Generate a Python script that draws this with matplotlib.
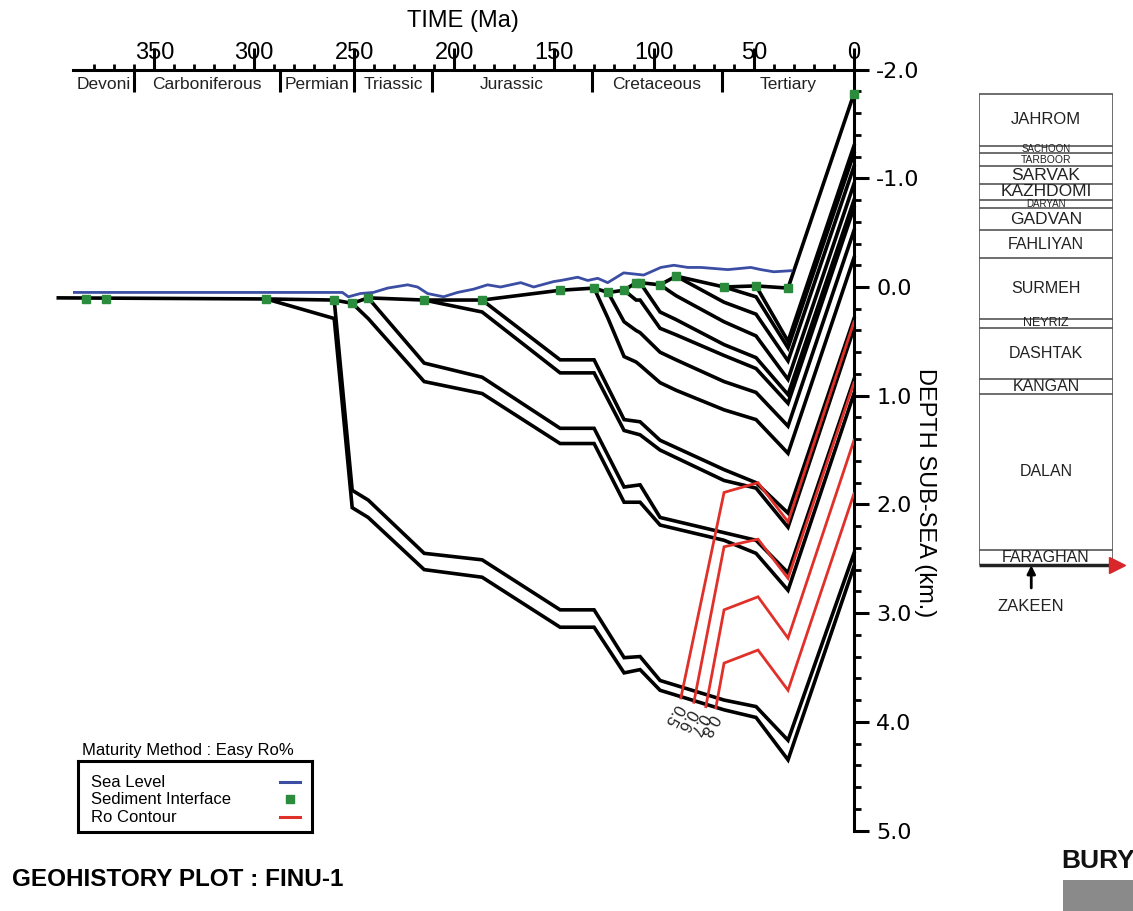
import numpy as np
import matplotlib
matplotlib.use("Agg")
import matplotlib.pyplot as plt
from matplotlib.patches import Rectangle
from matplotlib.ticker import FixedLocator, MultipleLocator

plt.rcParams["font.family"] = ["Liberation Sans", "DejaVu Sans"]

# ---------------- data ----------------
time_ticks = [350, 300, 250, 200, 150, 100, 50, 0]
depth_ticks = [-2.0, -1.0, 0.0, 1.0, 2.0, 3.0, 4.0, 5.0]
depth_labels = ["-2.0", "-1.0", "0.0", "1.0", "2.0", "3.0", "4.0", "5.0"]

period_names = ["Devoni", "Carboniferous", "Permian", "Triassic", "Jurassic", "Cretaceous", "Tertiary"]
period_bounds = [390.8, 360, 287, 250, 211, 131, 66, 0]

# burial curves : age (Ma) / depth sub-sea (km)
zakeen_top_age = [398, 294, 260, 251, 243, 215, 186, 147, 130, 115, 107, 97, 65, 49, 33, 0]
zakeen_top_depth = [0.10, 0.11, 0.29, 2.03, 2.12, 2.60, 2.67, 3.13, 3.13, 3.55, 3.52, 3.71, 3.89, 3.96, 4.35, 2.57]
faraghan_top_age = [294, 260, 251, 243, 215, 186, 147, 130, 115, 107, 97, 65, 49, 33, 0]
faraghan_top_depth = [0.11, 0.12, 1.87, 1.96, 2.45, 2.51, 2.97, 2.97, 3.41, 3.40, 3.62, 3.80, 3.86, 4.17, 2.45]
dalan_top_age = [260, 251, 243, 215, 186, 147, 130, 115, 107, 97, 65, 49, 33, 0]
dalan_top_depth = [0.12, 0.15, 0.29, 0.87, 0.98, 1.44, 1.44, 1.98, 1.98, 2.19, 2.33, 2.45, 2.79, 0.98]
kangan_top_age = [251, 243, 215, 186, 147, 130, 115, 107, 97, 65, 49, 33, 0]
kangan_top_depth = [0.15, 0.10, 0.70, 0.83, 1.30, 1.30, 1.84, 1.82, 2.12, 2.26, 2.33, 2.63, 0.85]
dashtak_top_age = [243, 215, 186, 147, 130, 115, 107, 97, 65, 49, 33, 0]
dashtak_top_depth = [0.10, 0.12, 0.23, 0.79, 0.79, 1.32, 1.36, 1.50, 1.78, 1.85, 2.21, 0.38]
neyriz_top_age = [215, 186, 147, 130, 115, 107, 97, 65, 49, 33, 0]
neyriz_top_depth = [0.12, 0.12, 0.67, 0.67, 1.22, 1.24, 1.41, 1.68, 1.80, 2.08, 0.29]
surmeh_top_age = [186, 147, 130, 123, 115, 109, 107, 97, 89, 65, 49, 33, 0]
surmeh_top_depth = [0.12, 0.03, 0.01, 0.29, 0.64, 0.69, 0.72, 0.88, 0.95, 1.13, 1.22, 1.53, -0.27]
fahliyan_top_age = [130, 123, 115, 109, 107, 97, 89, 65, 49, 33, 0]
fahliyan_top_depth = [0.01, 0.05, 0.32, 0.40, 0.42, 0.60, 0.67, 0.87, 0.97, 1.28, -0.52]
gadvan_top_age = [123, 115, 109, 107, 97, 89, 65, 49, 33, 0]
gadvan_top_depth = [0.05, 0.03, 0.12, 0.12, 0.38, 0.44, 0.63, 0.75, 1.07, -0.73]
daryan_top_age = [115, 109, 107, 97, 89, 65, 49, 33, 0]
daryan_top_depth = [0.03, -0.04, -0.04, 0.23, 0.30, 0.53, 0.65, 0.99, -0.80]
kazhdomi_top_age = [109, 107, 97, 89, 65, 49, 33, 0]
kazhdomi_top_depth = [-0.04, -0.04, -0.02, 0.08, 0.32, 0.45, 0.85, -0.95]
sarvak_top_age = [97, 89, 65, 49, 33, 0]
sarvak_top_depth = [-0.02, -0.10, 0.14, 0.25, 0.68, -1.11]
tarboor_top_age = [89, 65, 49, 33, 0]
tarboor_top_depth = [-0.10, 0.00, 0.09, 0.56, -1.23]
sachoon_top_age = [65, 49, 33, 0]
sachoon_top_depth = [0.00, -0.01, 0.50, -1.30]
jahrom_top_age = [49, 33, 0]
jahrom_top_depth = [-0.01, 0.01, -1.78]

# Easy Ro% contours
ro_levels = ["0.5", "0.6", "0.7", "0.8"]
ro05_age = [86.6, 65, 48, 33, 0]
ro05_depth = [3.78, 1.89, 1.80, 2.16, 0.32]
ro06_age = [80.1, 65, 48, 33, 0]
ro06_depth = [3.82, 2.39, 2.32, 2.68, 0.88]
ro07_age = [74.1, 65, 48, 33, 0]
ro07_depth = [3.86, 2.97, 2.85, 3.23, 1.41]
ro08_age = [69.1, 65, 48, 33, 0]
ro08_depth = [3.87, 3.46, 3.34, 3.71, 1.90]

# sea level
sea_age = [390.8, 255.9, 252.9, 246.9, 240.4, 233.3, 223.3, 218.3, 213.3, 205.3, 198.3, 190.3,
           183.3, 176.8, 166.7, 160.2, 150.2, 146.7, 138.2, 133.2, 128.2, 123.2, 115.2, 105.2,
           96.6, 90.1, 83.1, 76.6, 63.1, 51.6, 46.6, 40.1, 31.5]
sea_depth = [0.05, 0.05, 0.09, 0.06, 0.05, 0.01, -0.02, 0.00, 0.06, 0.09, 0.05, 0.02,
             -0.02, 0.00, -0.04, 0.00, -0.05, -0.06, -0.09, -0.06, -0.08, -0.04, -0.13, -0.11,
             -0.18, -0.20, -0.18, -0.18, -0.16, -0.18, -0.16, -0.14, -0.15]

# sediment interface
sed_age = [384, 374, 294, 260, 251, 243, 215, 186, 147, 130, 123, 115, 109, 107, 97, 89, 65, 49, 33, 0]
sed_depth = [0.11, 0.11, 0.11, 0.12, 0.15, 0.10, 0.12, 0.12, 0.03, 0.01, 0.05, 0.03, -0.04, -0.04,
             -0.02, -0.10, 0.00, -0.01, 0.01, -1.78]

# present-day stratigraphic column
formations = ["JAHROM", "SACHOON", "TARBOOR", "SARVAK", "KAZHDOMI", "DARYAN", "GADVAN",
              "FAHLIYAN", "SURMEH", "NEYRIZ", "DASHTAK", "KANGAN", "DALAN", "FARAGHAN"]
formation_tops = [-1.78, -1.30, -1.23, -1.11, -0.95, -0.80, -0.73, -0.52, -0.27, 0.29, 0.38, 0.85, 0.98, 2.42]
column_base = 2.56
formation_fontsize = [12, 7, 7.5, 12.5, 12.5, 7, 12.5, 11.5, 11.5, 9, 11.5, 11.5, 11.5, 11.5]

# ---------------- figure ----------------
W, H = 1133, 911
fig = plt.figure(figsize=(W / 100, H / 100), dpi=100)
ax = fig.add_axes([72.7 / W, (H - 830.5) / H, (854 - 72.7) / W, (830.5 - 69.6) / H])
ax.set_xlim(period_bounds[0], 0)
ax.set_ylim(5.0, -2.0)

horizons = [
    (zakeen_top_age, zakeen_top_depth), (faraghan_top_age, faraghan_top_depth),
    (dalan_top_age, dalan_top_depth), (kangan_top_age, kangan_top_depth),
    (dashtak_top_age, dashtak_top_depth), (neyriz_top_age, neyriz_top_depth),
    (surmeh_top_age, surmeh_top_depth), (fahliyan_top_age, fahliyan_top_depth),
    (gadvan_top_age, gadvan_top_depth), (daryan_top_age, daryan_top_depth),
    (kazhdomi_top_age, kazhdomi_top_depth), (sarvak_top_age, sarvak_top_depth),
    (tarboor_top_age, tarboor_top_depth), (sachoon_top_age, sachoon_top_depth),
    (jahrom_top_age, jahrom_top_depth),
]
for age, depth in horizons:
    ax.plot(age, depth, color="black", lw=2.6, solid_joinstyle="miter", clip_on=False, zorder=2)

ro_curves = [(ro05_age, ro05_depth), (ro06_age, ro06_depth), (ro07_age, ro07_depth), (ro08_age, ro08_depth)]
for (age, depth), lab in zip(ro_curves, ro_levels):
    ax.plot(age, depth, color="#e0302a", lw=2.0, solid_joinstyle="miter", zorder=3)
    ax.text(age[0] + 0.8, depth[0] + 0.07, lab, rotation=-120, ha="left", va="center",
            fontsize=12, rotation_mode="anchor", color="#222222")

ax.plot(sea_age, sea_depth, color="#3b4ea3", lw=2.0, zorder=4)
ax.plot(sed_age, sed_depth, ls="none", marker="s", ms=6, color="#2a8c3c", clip_on=False, zorder=5)

# axes styling
for side in ["left", "bottom"]:
    ax.spines[side].set_visible(False)
for side in ["top", "right"]:
    ax.spines[side].set_linewidth(2.2)

ax.xaxis.set_ticks_position("top")
ax.set_xticks(time_ticks)
ax.set_xticklabels([str(t) for t in time_ticks])
ax.xaxis.set_minor_locator(FixedLocator(np.arange(10, 390, 10)))
ax.tick_params(axis="x", which="major", direction="out", length=16, width=2.2, pad=-12, labelsize=17)
ax.tick_params(axis="x", which="minor", direction="out", length=4, width=2)

ax.yaxis.set_ticks_position("right")
ax.set_yticks(depth_ticks)
ax.set_yticklabels(depth_labels, fontfamily="DejaVu Sans")
ax.yaxis.set_minor_locator(MultipleLocator(0.2))
ax.tick_params(axis="y", which="major", direction="out", length=11, width=2.2, pad=5, labelsize=16)
ax.tick_params(axis="y", which="minor", direction="out", length=5, width=2)

# period boundaries and names
sec = ax.secondary_xaxis("top")
sec.set_xticks(period_bounds[1:-1])
sec.tick_params(direction="in", length=16, width=2.2, labeltop=False)
sec.spines["top"].set_visible(False)
for name, a, b in zip(period_names, period_bounds[:-1], period_bounds[1:]):
    ax.text((a + b) / 2, 0.98, name, transform=ax.get_xaxis_transform(), ha="center", va="center",
            fontsize=12.5, color="#222222")

fig.text(463 / W, 1 - 21 / H, "TIME (Ma)", ha="center", va="center", fontsize=17)
fig.text(925 / W, 1 - 493 / H, "DEPTH SUB-SEA (km.)", ha="center", va="center", rotation=270, fontsize=17)

# stratigraphic column
col = fig.add_axes([979 / W, (H - 830.5) / H, (1113 - 979) / W, (830.5 - 69.6) / H])
col.set_xlim(0, 1)
col.set_ylim(5.0, -2.0)
col.axis("off")
col.hlines(formation_tops, 0, 1, color="#555555", lw=1.2)
col.vlines([0, 1], formation_tops[0], column_base, color="#555555", lw=1.2)
col.hlines([column_base], 0, 1, color="#222222", lw=2.5)
col.plot([1.03], [column_base], marker=">", ms=11, color="#d8262a", clip_on=False)
bounds = formation_tops + [column_base]
for name, a, b, fs in zip(formations, bounds[:-1], bounds[1:], formation_fontsize):
    col.text(0.5, (a + b) / 2, name, ha="center", va="center", fontsize=fs, color="#222222")
col.annotate("ZAKEEN", xy=(0.39, column_base), xytext=(0.39, column_base + 0.38),
             ha="center", va="center", fontsize=12, color="#222222",
             arrowprops=dict(arrowstyle="-|>", lw=2, color="black", shrinkA=6, shrinkB=0))

# legend
fig.text(82 / W, 1 - 750 / H, "Maturity Method : Easy Ro%", ha="left", va="center", fontsize=12)
leg = fig.add_axes([78 / W, (H - 832) / H, 234 / W, 71 / H])
leg.set_xlim(0, 1)
leg.set_ylim(0, 1)
leg.set_xticks([])
leg.set_yticks([])
for s in leg.spines.values():
    s.set_linewidth(2.2)
leg_labels = ["Sea Level", "Sediment Interface", "Ro Contour"]
leg_y = [0.70, 0.46, 0.21]
for lab, yy in zip(leg_labels, leg_y):
    leg.text(0.056, yy, lab, ha="left", va="center", fontsize=12)
leg.plot([0.863, 0.949], [leg_y[0]] * 2, color="#3b4ea3", lw=2.2)
leg.plot([0.906], [leg_y[1]], marker="s", ms=6, color="#2a8c3c")
leg.plot([0.863, 0.949], [leg_y[2]] * 2, color="#e0302a", lw=2.2)

fig.text(12 / W, 1 - 880 / H, "GEOHISTORY PLOT : FINU-1", ha="left", va="center",
         fontsize=17.5, fontweight="bold")

# logo
fig.text(1098 / W, 1 - 861 / H, "BURY", ha="center", va="center", fontsize=19, fontweight="bold",
         family=["Liberation Sans Narrow", "Liberation Sans"], color="#111111")
fig.add_artist(Rectangle((1063 / W, 0), 70 / W, 31 / H, transform=fig.transFigure,
                         color="#8a8a8a", lw=0))

fig.savefig("out.png", dpi=100)
